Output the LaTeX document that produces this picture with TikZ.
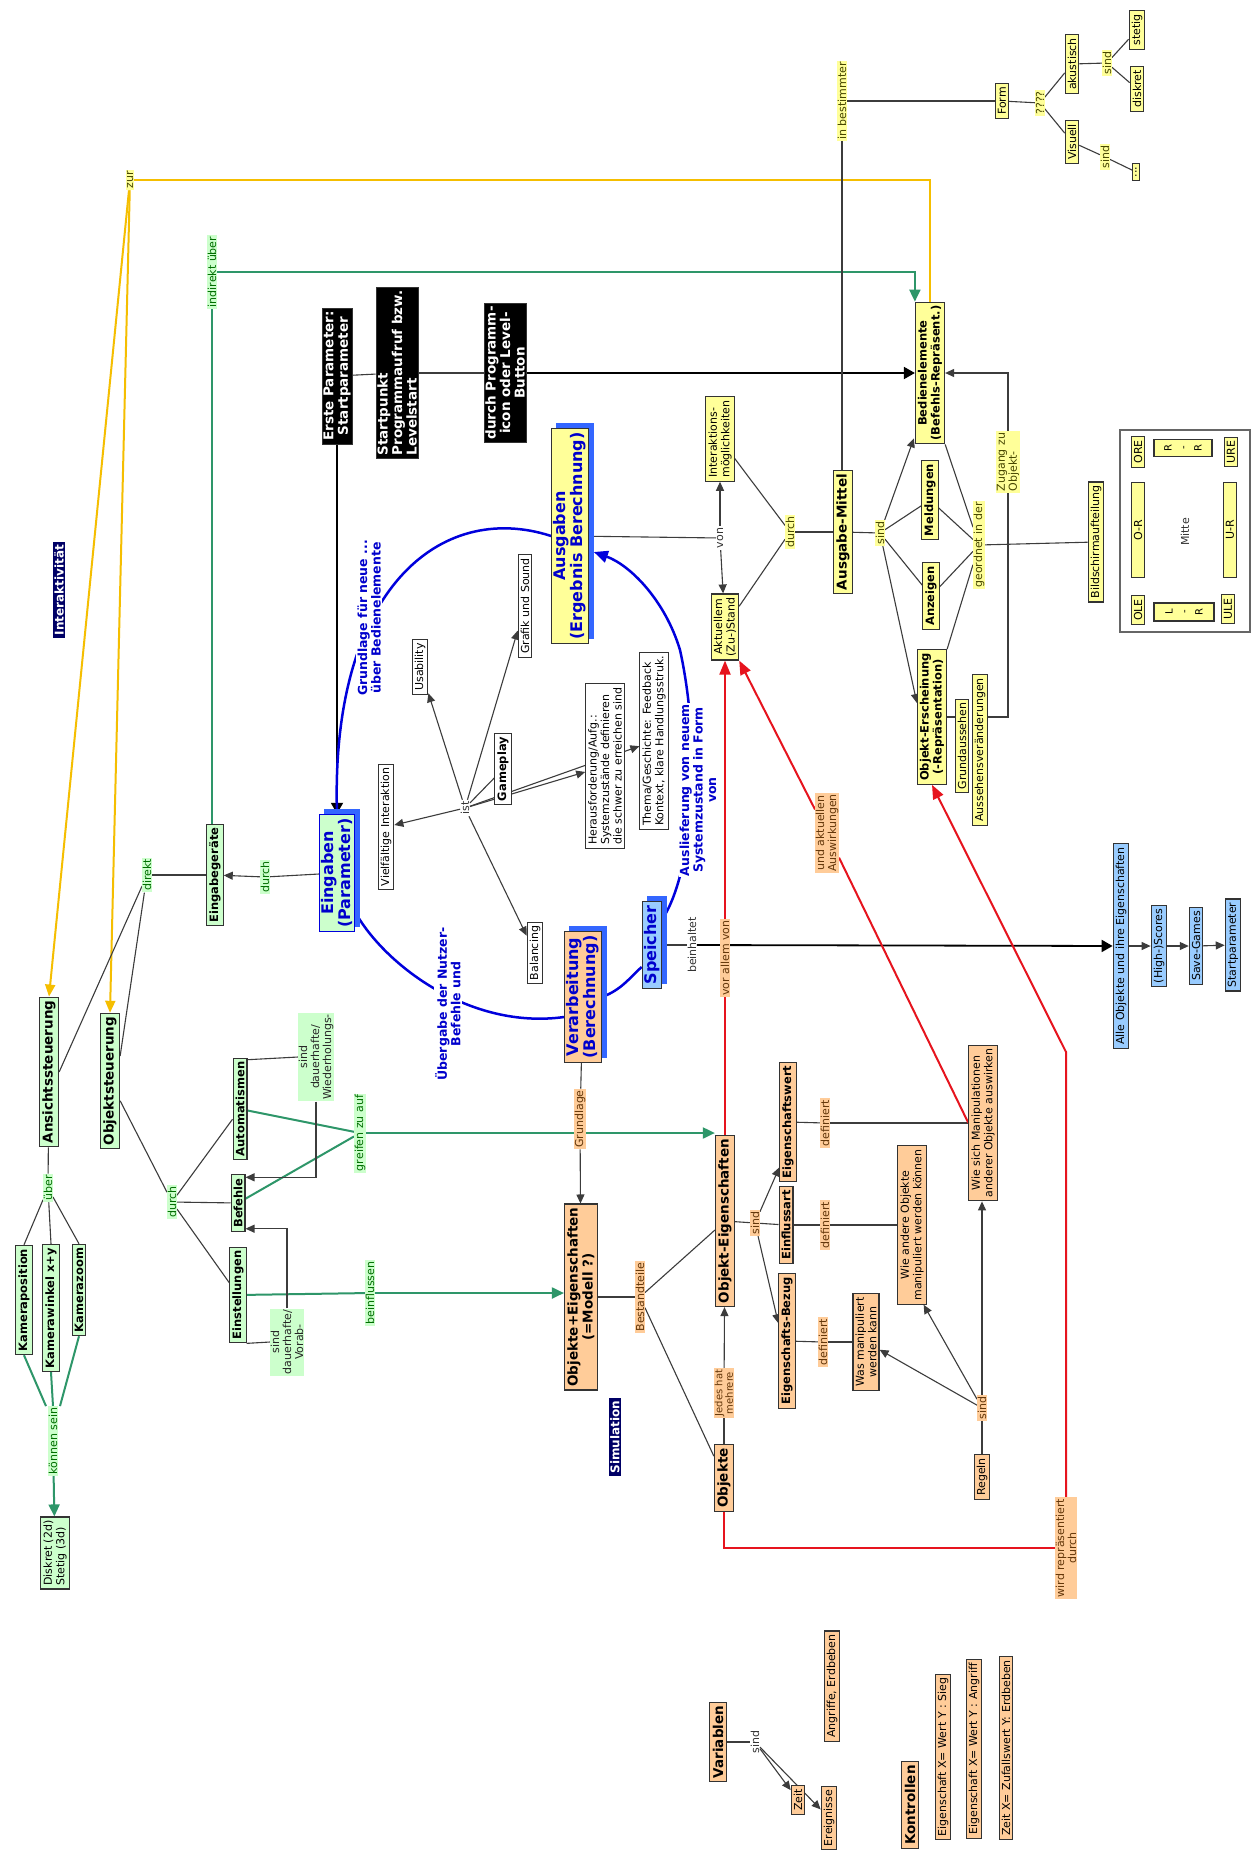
\documentclass[tikz,border=0pt]{standalone}
\usepackage{fontspec}
\setmainfont{DejaVu Sans}
\usetikzlibrary{arrows.meta,calc}
\definecolor{gfill}{RGB}{204,255,204}
\definecolor{yfill}{RGB}{255,255,153}
\definecolor{tfill}{RGB}{255,204,153}
\definecolor{bfill}{RGB}{153,204,255}
\definecolor{navy}{RGB}{0,0,102}
\definecolor{bordc}{RGB}{51,51,51}
\definecolor{linec}{RGB}{60,60,60}
\definecolor{gtxt}{RGB}{0,110,0}
\definecolor{ytxt}{RGB}{70,70,0}
\definecolor{ttxt}{RGB}{100,55,10}
\definecolor{glinec}{RGB}{46,150,105}
\definecolor{ylinec}{RGB}{245,190,0}
\definecolor{rlinec}{RGB}{230,20,30}
\definecolor{blinec}{RGB}{0,0,220}
\definecolor{shad}{RGB}{51,102,255}
\definecolor{btxt}{RGB}{0,0,204}
\pgfdeclarelayer{bglayer}
\pgfdeclarelayer{edgelayer}
\pgfdeclarelayer{shadowlayer}
\pgfsetlayers{bglayer,edgelayer,shadowlayer,main}
\newcommand\fzR{\fontsize{11}{12.5}\selectfont}
\newcommand\fzL{\fontsize{11}{12}\selectfont}
\newcommand\fzB{\bfseries\fontsize{11.5}{13}\selectfont}
\newcommand\fzBB{\bfseries\fontsize{13.5}{15}\selectfont}
\newcommand\fzK{\bfseries\fontsize{13.5}{14.5}\selectfont}
\newcommand\fzBig{\bfseries\fontsize{16}{17}\selectfont}
\newcommand\fzBL{\bfseries\fontsize{12.5}{13.5}\selectfont}
\tikzset{
 box/.style={rotate=90, draw=bordc, line width=1.1pt, inner xsep=3.5pt, inner ysep=2.5pt, align=center, font=\fzR, text=black},
 gbox/.style={box, fill=gfill},
 ybox/.style={box, fill=yfill},
 tbox/.style={box, fill=tfill},
 bbox/.style={box, fill=bfill},
 wbox/.style={box, fill=white},
 bold/.style={font=\fzB},
 bigbold/.style={font=\fzBB, inner ysep=3pt},
 blk/.style={rotate=90, fill=black, draw=bordc, text=white, font=\fzK, inner xsep=3pt, inner ysep=1.5pt},
 navybox/.style={rotate=90, fill=navy, text=white, font={\bfseries\fontsize{12}{13}\selectfont}, inner xsep=3pt, inner ysep=1.5pt},
 lbl/.style={rotate=90, align=center, font=\fzL, inner xsep=1.5pt, inner ysep=0.5pt},
 glbl/.style={lbl, fill=gfill, text=gtxt},
 ylbl/.style={lbl, fill=yfill, text=ytxt},
 tlbl/.style={lbl, fill=tfill, text=ttxt},
 plbl/.style={lbl, text=black!80},
 bluelbl/.style={rotate=90, align=center, font=\fzBL, text=btxt, fill=white, inner sep=1pt},
 bigb/.style={rotate=90, align=center, font=\fzBig, text=btxt, draw=bordc, line width=1.1pt, inner xsep=4pt, inner ysep=2pt},
 conn/.style={draw=linec, line width=1.1pt},
 arr/.style={conn, -{Triangle[length=9pt,width=8pt]}},
 bigarr/.style={draw=black, line width=1.8pt, -{Triangle[length=11pt,width=12pt]}},
 yl/.style={draw=ylinec, line width=2pt},
 yarr/.style={yl, -{Triangle[length=12pt,width=10pt]}},
 gl/.style={draw=glinec, line width=2pt},
 garr/.style={gl, -{Triangle[length=12pt,width=11pt]}},
 rl/.style={draw=rlinec, line width=2pt},
 rarr/.style={rl, -{Triangle[length=14pt,width=11pt]}},
 bl/.style={draw=blinec, line width=2.5pt},
 barr/.style={bl, -{Triangle[length=14pt,width=12pt]}}
}
\begin{document}
\begin{tikzpicture}[x=1pt,y=-1pt]
\useasboundingbox (0,0) rectangle (1252,1852);
\begin{pgfonlayer}{bglayer}
\fill[white] (0,0) rectangle (1252,1852);
\end{pgfonlayer}

% navy titles
\node[navybox] (interakt) at (59,590) {Interaktivität};
\node[navybox] (simul) at (615,1437) {Simulation};

% green part
\node[gbox,bigbold] (ansicht) at (49,1072) {Ansichtssteuerung};
\node[gbox,bigbold] (objst) at (110,1081) {Objektsteuerung};
\node[gbox,bold] (kpos) at (24,1300) {Kameraposition};
\node[gbox,bold] (kwin) at (51,1308) {Kamerawinkel x+y};
\node[gbox,bold] (kzoom) at (79,1290) {Kamerazoom};
\node[glbl] (ueber) at (48,1188) {über};
\node[glbl] (koennen) at (53,1441) {können sein};
\node[gbox,align=left] (diskr) at (55,1553) {Diskret (2d)\\Stetig (3d)};
\node[gbox,bold] (eingeraete) at (215,875) {Eingabegeräte};
\node[glbl] (direkt) at (147,875) {direkt};
\node[glbl] (durchE) at (265,877) {durch};
\node[glbl] (durchO) at (172,1202) {durch};
\node[gbox,bold] (autom) at (240,1109) {Automatismen};
\node[gbox,bold] (befehle) at (238,1203) {Befehle};
\node[gbox,bold] (einst) at (238,1295) {Einstellungen};
\node[glbl,text=black!85] (sindW) at (316,1057) {sind\\dauerhafte/\\Wiederholungs-};
\node[glbl,text=black!85] (sindV) at (287,1342) {sind\\dauerhafte/\\Vorab-};
\node[glbl] (greif) at (360,1133) {greifen zu auf};
\node[glbl] (beinfl) at (370,1293) {beinflussen};
\node[glbl] (indirekt) at (212,272) {indirekt über};
\node[ylbl] (zur) at (130,180) {zur};

% central cycle
\node[bigb,fill=gfill,draw=blinec] (eingaben) at (337,873) {Eingaben\\(Parameter)};
\node[bigb,fill=yfill] (ausgaben) at (570,536) {Ausgaben\\(Ergebnis Berechnung)};
\node[bigb,fill=tfill] (verarb) at (583,997) {Verarbeitung\\(Berechnung)};
\node[bigb,fill=bfill] (speicher) at (652,945) {Speicher};
\node[bluelbl] (grundL) at (369,618) {Grundlage für neue ...\\über Bedienelemente};
\node[bluelbl] (uebergabe) at (448,1004) {Übergabe der Nutzer-\\Befehle und};
\node[bluelbl] (auslief) at (698,790) {Auslieferung von neuem\\Systemzustand in Form\\von};

% ist cluster
\node[plbl] (ist) at (465,808) {ist};
\node[wbox] (vielf) at (386,827) {Vielfältige Interaktion};
\node[wbox] (usab) at (420,667) {Usability};
\node[wbox] (grafik) at (525,606) {Grafik und Sound};
\node[wbox,bold] (gameplay) at (503,769) {Gameplay};
\node[wbox,align=left] (heraus) at (605,766) {Herausforderung/Aufg.:\\Systemzustände definieren\\die schwer zu erreichen sind};
\node[wbox,align=left] (thema) at (654,741) {Thema/Geschichte: Feedback\\Kontext, klare Handlungsstruk.};
\node[wbox] (balanc) at (535,953) {Balancing};

% black boxes
\node[blk,align=center] (erste) at (337,376) {Erste Parameter:\\Startparameter};
\node[blk,align=left] (startp) at (397,373) {Startpunkt\\Programmaufruf bzw.\\Levelstart};
\node[blk,align=center] (durchP) at (505,373) {durch Programm-\\icon oder Level-\\Button};

% yellow part
\node[ybox,align=left] (interm) at (720,439) {Interaktions-\\möglichkeiten};
\node[ybox] (aktuell) at (725,627) {Aktuellem\\(Zu-)Stand};
\node[plbl,fill=white] (von) at (720,538) {von};
\node[ylbl] (durchY) at (790,532) {durch};
\node[ybox,bigbold] (ausgM) at (843,532) {Ausgabe-Mittel};
\node[ylbl] (sindY) at (880,533) {sind};
\node[ybox,bold] (bedien) at (930,373) {Bedienelemente\\(Befehls-Repräsent.)};
\node[ybox,bold] (meld) at (930,500) {Meldungen};
\node[ybox,bold] (anz) at (931,596) {Anzeigen};
\node[ybox,bold] (objers) at (932,717) {Objekt-Erscheinung\\(-Repräsentation)};
\node[ylbl] (geordnet) at (979,545) {geordnet in der};
\node[ylbl,align=left] (zugang) at (1008,462) {Zugang zu\\Objekt-};
\node[ybox] (grundaus) at (962,746) {Grundaussehen};
\node[ybox] (aussehen) at (980,750) {Aussehensveränderungen};
\node[ybox] (bildsch) at (1096,542) {Bildschirmaufteilung};
\node[draw=black!60, line width=1.5pt, minimum width=130pt, minimum height=202pt, inner sep=0pt] (screen) at (1185,531) {};
\node[ybox] (ore) at (1138,452) {ORE};
\node[ybox] (ure) at (1231,452) {URE};
\node[ybox] (ole) at (1138,610) {OLE};
\node[ybox] (ule) at (1228,609) {ULE};
\node[ybox,minimum width=95pt] (oR) at (1138,530) {O-R};
\node[ybox,minimum width=95pt] (uR) at (1230,530) {U-R};
\node[ybox,minimum height=58pt,minimum width=17pt,inner xsep=1pt,font={\fontsize{10}{15}\selectfont}] (rR) at (1183,448) {R\\-\\R};
\node[ybox,minimum height=60pt,minimum width=18pt,inner xsep=1pt,font={\fontsize{10}{15}\selectfont}] (lR) at (1184,612) {L\\-\\R};
\node[plbl] (mitte) at (1185,532) {Mitte};
\node[ylbl] (inbest) at (842,101) {in bestimmter};
\node[ybox] (form) at (1002,101) {Form};
\node[ylbl] (qm) at (1040,103) {????};
\node[ybox] (akust) at (1072,64) {akustisch};
\node[ybox] (visuell) at (1072,142) {Visuell};
\node[ylbl] (sindA) at (1107,63) {sind};
\node[ylbl] (sindVi) at (1105,157) {sind};
\node[ybox] (stetig) at (1137,30) {stetig};
\node[ybox] (diskY) at (1137,89) {diskret};
\node[ybox] (dots) at (1136,172) {...};

% tan part
\node[tbox,bigbold] (objekte) at (724,1478) {Objekte};
\node[tlbl,font={\fontsize{10}{10.5}\selectfont}] (jedes) at (724,1393) {Jedes hat\\mehrere};
\node[tbox,bigbold] (oeig) at (725,1221) {Objekt-Eigenschaften};
\node[tlbl] (bestand) at (640,1297) {Bestandteile};
\node[tbox,bigbold] (objeig) at (581,1297) {Objekte+Eigenschaften\\(=Modell ?)};
\node[tlbl] (grundT) at (580,1119) {Grundlage};
\node[tlbl] (vorallem) at (725,958) {vor allem von};
\node[tlbl] (undakt) at (827,833) {und aktuellen\\Auswirkungen};
\node[tbox,bold] (eigwert) at (788,1122) {Eigenschaftswert};
\node[tbox,bold] (einfl) at (786,1225) {Einflussart};
\node[tbox,bold] (eigbez) at (787,1341) {Eigenschafts-Bezug};
\node[tlbl] (sindT) at (755,1223) {sind};
\node[tlbl] (def1) at (825,1123) {definiert};
\node[tlbl] (def2) at (825,1225) {definiert};
\node[tlbl] (def3) at (823,1342) {definiert};
\node[tbox] (wasman) at (866,1342) {Was manipuliert\\werden kann};
\node[tbox] (wieand) at (912,1225) {Wie andere Objekte\\manipuliert werden können};
\node[tbox] (wiesich) at (983,1123) {Wie sich Manipulationen\\anderer Objekte auswirken};
\node[tbox] (regeln) at (982,1477) {Regeln};
\node[tlbl] (sindR) at (982,1408) {sind};
\node[tlbl] (wirdrep) at (1066,1548) {wird repräsentiert\\durch};
\node[tbox,bigbold] (variablen) at (718,1742) {Variablen};
\node[plbl] (sindVar) at (755,1742) {sind};
\node[tbox] (zeit) at (798,1800) {Zeit};
\node[tbox] (ereig) at (829,1818) {Ereignisse};
\node[tbox] (angriffe) at (832,1686) {Angriffe, Erdbeben};
\node[tbox,bigbold] (kontr) at (910,1805) {Kontrollen};
\node[tbox] (k1) at (943,1757) {Eigenschaft X= Wert Y : Sieg};
\node[tbox] (k2) at (974,1749) {Eigenschaft X= Wert Y : Angriff};
\node[tbox] (k3) at (1006,1748) {Zeit X= Zufallswert Y: Erdbeben};

% blue storage
\node[bbox] (alle) at (1121,946) {Alle Objekte und ihre Eigenschaften};
\node[bbox] (highs) at (1159,946) {(High-)Scores};
\node[bbox] (saveg) at (1196,946) {Save-Games};
\node[bbox] (startpar) at (1233,945) {Startparameter};
\node[plbl] (beinh) at (692,945) {beinhaltet};

% shadows
\begin{pgfonlayer}{shadowlayer}
\foreach \n in {eingaben,ausgaben,verarb,speicher}
  \fill[shad] ($(\n.south west)+(5,-5)$) rectangle ($(\n.north east)+(5,-5)$);
\end{pgfonlayer}

\begin{pgfonlayer}{edgelayer}
% yellow
\draw[yl] (bedien.east) |- (zur);
\draw[yarr] (zur) -- (ansicht.east);
\draw[yarr] (zur) -- (objst.east);
% green
\draw[gl] (indirekt) -- (indirekt |- eingeraete.east);
\draw[garr] (indirekt) -| (bedien.north east);
\draw[garr] (greif) -- (greif -| oeig.north);
\draw[gl] (autom) -- (greif);
\draw[gl] (befehle) -- (greif);
\draw[gl] (einst) -- (beinfl);
\draw[garr] (beinfl) -- (beinfl -| objeig.north);
\draw[gl] (kpos.west) -- ($(koennen.east)+(-7,0)$);
\draw[gl] (kwin.west) -- (koennen.east);
\draw[gl] (kzoom.west) -- ($(koennen.east)+(7,0)$);
\draw[garr] (koennen) -- (diskr);
% grey connectors, left part
\draw[conn] (ansicht) -- (ueber);
\draw[conn] (ueber) -- (kpos.east);
\draw[conn] (ueber) -- (kwin.east);
\draw[conn] (ueber) -- (kzoom.east);
\draw[conn] (direkt) -- (eingeraete);
\draw[conn] (direkt) -- (ansicht.south);
\draw[conn] (direkt) -- ($(objst.south)+(0,-25)$);
\draw[conn] (eingaben) -- (durchE);
\draw[arr] (durchE) -- (eingeraete);
\draw[conn] (objst) -- (durchO);
\draw[conn] (durchO) -- (autom);
\draw[conn] (durchO) -- (befehle);
\draw[conn] (durchO) -- (einst);
\draw[conn] ($(autom.south east)+(0,2)$) -- (sindW.north);
\draw[arr] (sindW.west) |- ($(befehle.south east)+(0,3)$);
\draw[conn] (einst.south west) -- (sindV.north);
\draw[arr] (sindV.east) |- ($(befehle.south west)+(0,-3)$);
% black boxes
\draw[conn] (erste) -- (startp);
\draw[bigarr] (erste.west) -- (erste.west |- eingaben.east);
\draw[conn] (startp) -- (durchP);
\draw[bigarr] (durchP) -- (bedien);
% output side
\draw[arr] (zugang.east) |- (bedien.south);
\draw[conn] (aussehen.south |- objers) -| (zugang.west);
\draw[conn] (objers) -- (objers -| grundaus.north);
\draw[conn] (inbest) -- (form);
\draw[conn] (inbest) -- (inbest |- ausgM.east);
\draw[conn] (form) -- (qm);
\draw[conn] (qm) -- (akust);
\draw[conn] (qm) -- (visuell);
\draw[conn] (akust) -- (sindA);
\draw[conn] (sindA) -- (stetig);
\draw[conn] (sindA) -- (diskY);
\draw[conn] (visuell) -- (sindVi);
\draw[conn] (sindVi) -- (dots);
\draw[conn] (ausgM) -- (sindY);
\draw[arr] (sindY) -- ($(bedien.north west)+(-1,-6)$);
\draw[conn] (sindY) -- (meld);
\draw[conn] (sindY) -- (anz);
\draw[arr] (sindY) -- ($(objers.north)+(0,-14)$);
\draw[conn] (geordnet) -- (meld);
\draw[conn] (geordnet) -- (anz);
\draw[conn] (geordnet) -- (objers.south east);
\draw[conn] (geordnet) -- (bedien.south west);
\draw[conn] (geordnet) -- (bildsch);
\draw[conn] (ausgaben) -- (von);
\draw[arr] (von) -- (interm);
\draw[arr] (von) -- (aktuell);
\draw[conn] (durchY) -- (interm);
\draw[conn] (durchY) -- (aktuell);
\draw[conn] (durchY) -- (ausgM);
% ist
\draw[arr] (ist) -- (vielf);
\draw[arr] (ist) -- (usab);
\draw[arr] (ist) -- (grafik);
\draw[conn] (ist) -- (gameplay);
\draw[arr] (ist) -- (heraus);
\draw[arr] (ist) -- (thema);
\draw[arr] (ist) -- (balanc);
% storage
\draw[conn] (speicher) -- (beinh);
\draw[bigarr] (beinh) -- (alle);
\draw[arr] (alle) -- (highs);
\draw[arr] (highs) -- (saveg);
\draw[arr] (saveg) -- (startpar);
% simulation
\draw[conn] (verarb) -- (grundT);
\draw[arr] (grundT) -- (objeig);
\draw[conn] (objeig) -- (bestand);
\draw[conn] (bestand) -- (oeig);
\draw[conn] (bestand) -- (objekte);
\draw[conn] (objekte) -- (jedes);
\draw[arr] (jedes) -- (oeig);
\draw[conn] (oeig) -- (sindT);
\draw[arr] (sindT) -- ($(eigwert.north west)+(0,-15)$);
\draw[conn] (sindT) -- (einfl);
\draw[arr] (sindT) -- ($(eigbez.north east)+(0,50)$);
\draw[conn] (eigwert) -- (def1);
\draw[conn] (einfl) -- (def2);
\draw[conn] (eigbez) -- (def3);
\draw[conn] (def1) -- (def1 -| wiesich.north);
\draw[conn] (def2) -- (def2 -| wieand.north);
\draw[conn] (def3) -- (def3 -| wasman.north);
\draw[conn] (regeln) -- (sindR);
\draw[arr] (sindR) -- (wasman);
\draw[arr] (sindR) -- ($(wieand.south west)+(-3,0)$);
\draw[arr] (sindR) -- (sindR |- wiesich.west);
\draw[conn] (variablen) -- (sindVar);
\draw[arr] (sindVar) -- (zeit);
\draw[arr] (sindVar) -- (ereig);
% red
\draw[rl] (oeig.east) -- (vorallem);
\draw[rarr] (vorallem) -- (vorallem |- aktuell.west);
\draw[rl] (wiesich.north) -- (undakt);
\draw[rarr] (undakt) -- (aktuell.south west);
\draw[rl] (objekte.west) |- (wirdrep);
\coordinate (rbend) at (1066,1052);
\draw[rarr] (wirdrep.east) -- (rbend) -- (objers.west);
% blue cycle
\draw[bl] (ausgaben.north) .. controls (440,500) and (330,590) .. (eingaben.east);
\draw[bl] ($(eingaben.south west)+(0,-20)$) .. controls (385,965) and (470,1030) .. ($(verarb.north)+(0,20)$);
\draw[bl] (verarb.south) .. controls (622,990) and (632,975) .. ($(speicher.north)+(0,22)$);
\draw[barr] ($(speicher.east)+(14,12)$) .. controls (695,860) and (700,740) .. (680,650) .. controls (665,600) and (630,565) .. ($(ausgaben.south)+(5,16)$);
\end{pgfonlayer}
\end{tikzpicture}
\end{document}
